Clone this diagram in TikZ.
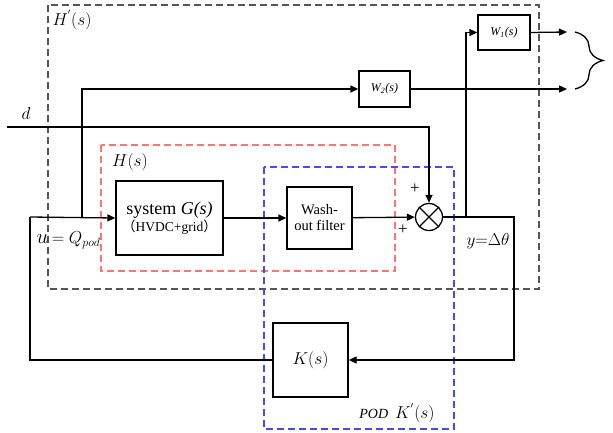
\documentclass[tikz,border=0pt]{standalone}
\usepackage{fontspec}
\setmainfont{Liberation Serif}
\newfontfamily\cjk{Noto Sans CJK SC}
\usetikzlibrary{arrows.meta, positioning, decorations.pathreplacing}
\definecolor{framered}{HTML}{FF7373}
\definecolor{frameblue}{HTML}{4848F4}
\definecolor{framegray}{HTML}{555555}
\tikzset{
    block/.style={draw, line width=1.3pt, inner sep=0pt},
    wire/.style={line width=1.3pt},
    arr/.style={wire, -{Triangle[length=8pt, width=7pt]}},
    frame/.style={line width=1.1pt, dash pattern=on 7pt off 4pt}
}
\begin{document}
\begin{tikzpicture}[x=1pt, y=-1pt]
    \useasboundingbox (0,0) rectangle (613,432);
    % dashed frames
    \draw[frame, draw=framegray] (48,5) rectangle (539,289);
    \draw[frame, draw=framered] (101,145) rectangle (395,271);
    \draw[frame, draw=frameblue] (264,167) rectangle (454,429);
    % blocks
    \node[block, minimum width=107pt, minimum height=74pt, align=center] (sysG) at (169.5,218)
        {\fontsize{18}{20}\selectfont system \textit{G(s)}\\[0pt]\fontsize{13.5}{15}\selectfont{\cjk （}HVDC+grid{\cjk ）}};
    \node[block, minimum width=65pt, minimum height=62pt, align=center, font=\fontsize{14.5}{16}\selectfont] (washout) at (319.5,218) {Wash-\\out filter};
    \node[draw, circle, line width=1.3pt, minimum size=27pt, inner sep=0pt] (sum) at (429,217) {};
    \draw[line width=1.3pt] (sum.north east) -- (sum.south west) (sum.north west) -- (sum.south east);
    \node[block, minimum width=75pt, minimum height=74pt, font=\fontsize{17}{19}\selectfont] (Kbox) at (310.5,360) {$K(s)$};
    \node[block, minimum width=52pt, minimum height=35pt, font=\fontsize{12}{14}\selectfont\itshape] (W1box) at (504,32.5) {W\textsubscript{1}(s)};
    \node[block, minimum width=51pt, minimum height=36pt, font=\fontsize{12}{14}\selectfont\itshape] (W2box) at (384.5,89) {W\textsubscript{2}(s)};
    % junctions and ends
    \coordinate (ustart) at (30,217);
    \coordinate (tapu) at (82,217);
    \coordinate (dstart) at (7,127);
    \coordinate (ytap) at (466,217);
    \coordinate (yback) at (514,360);
    \coordinate (out1) at (567,32);
    \coordinate (out2) at (567,89);
    % connectors
    \draw[arr] (ustart) -- (sysG.west);
    \draw[arr] (sysG) -- (washout);
    \draw[arr] (washout) -- (sum);
    \draw[arr] (dstart) -| (sum.north);
    \draw[arr] (sum.east) -| (yback) -- (Kbox.east);
    \draw[wire] (Kbox.west) -| (ustart);
    \draw[arr] (tapu) |- (W2box.west);
    \draw[arr] (W2box.east) -- (out2);
    \draw[arr] (ytap) |- (W1box.west);
    \draw[arr] (W1box.east) -- (out1);
    \draw[wire, decorate, decoration={brace, amplitude=28pt, aspect=0.5}] (575,32) -- (575,89);
    % labels
    \node[font=\fontsize{17}{19}\selectfont] (lblHp) at (72,20) {$H^{'}(s)$};
    \node[font=\fontsize{18}{20}\selectfont] (lblH) at (130,162) {$H(s)$};
    \node[font=\fontsize{18}{20}\selectfont] (lbld) at (26,113) {$d$};
    \node[font=\fontsize{17}{19}\selectfont] (plus1) at (415,189) {+};
    \node[font=\fontsize{17}{19}\selectfont] (plus2) at (403,230) {+};
    \node[anchor=west] (lblu) at (33,240) {\fontsize{22}{24}\selectfont$u$\,\fontsize{17}{19}\selectfont$=Q_{pod}$};
    \node[font=\fontsize{17}{19}\selectfont] (lbly) at (488,241) {$y{=}\Delta\theta$};
    \node[anchor=east] (lblK) at (438,413) {\fontsize{14}{16}\selectfont\itshape POD\ \ \fontsize{18}{20}\selectfont$K^{'}(s)$};
\end{tikzpicture}
\end{document}
